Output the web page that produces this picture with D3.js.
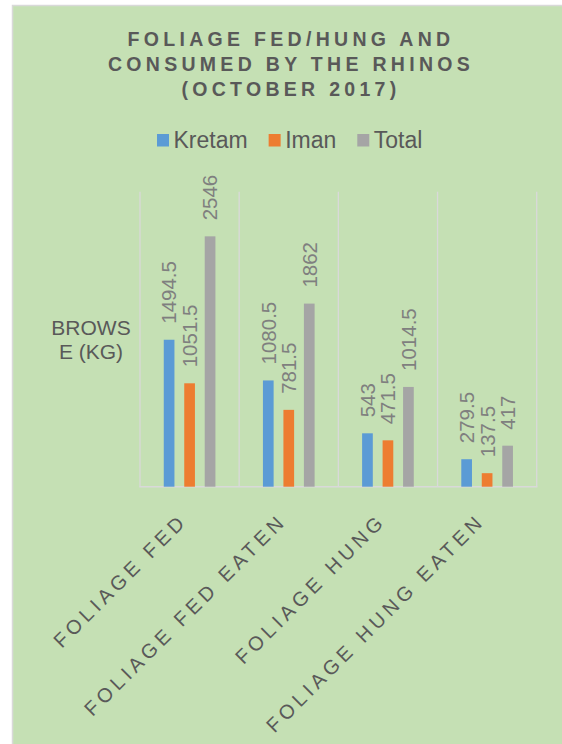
<!DOCTYPE html>
<html>
<head>
<meta charset="utf-8">
<script src="https://cdn.jsdelivr.net/npm/d3@7"></script>
<style>
	body { margin: 0; background: #fff; }
	svg { display: block; font-family: "Liberation Sans", Arial, sans-serif; }
</style>
</head>
<body>
<div class="chart"></div>
<script>

// Data

var
	categories = ['FOLIAGE FED', 'FOLIAGE FED EATEN', 'FOLIAGE HUNG', 'FOLIAGE HUNG EATEN'],
	seriesNames = ['Kretam', 'Iman', 'Total'],
	kretam = [1494.5, 1080.5, 543, 279.5],
	iman = [1051.5, 781.5, 471.5, 137.5],
	total = [2546, 1862, 1014.5, 417],
	seriesValues = [kretam, iman, total],
	colors = ['#5b9bd5', '#ed7d31', '#a5a5a5'],
	titleLines = ['FOLIAGE FED/HUNG AND', 'CONSUMED BY THE RHINOS', '(OCTOBER 2017)'],
	axisTitle = ['BROWS', 'E (KG)'];

// Canvas

var
	width = 562,
	height = 744,
	svg = d3.select('.chart').append('svg')
		.attr('width', width)
		.attr('height', height),

	panel = svg.append('rect')
		.attr('x', 12.5)
		.attr('y', 5.5)
		.attr('width', 570)
		.attr('height', 760)
		.style('fill', '#c5e0b4')
		.style('stroke', '#d9d9d9')
		.style('stroke-width', 1.5);

// Scales

var
	plotLeft = 140,
	plotRight = 536.7,
	plotTop = 191.7,
	plotBottom = 486.7,

	x0 = d3.scaleBand()
		.domain(categories)
		.range([plotLeft, plotRight]),

	x1 = d3.scaleBand()
		.domain(seriesNames)
		.range([0, x0.bandwidth()])
		.paddingInner(0.478)
		.paddingOuter(1.16),

	y = d3.scaleLinear()
		.domain([0, 3000])
		.range([plotBottom, plotTop]);

// Title

svg.append('text')
	.attr('text-anchor', 'middle')
	.style('font-size', '19.5px')
	.style('font-weight', 'bold')
	.style('letter-spacing', '4.3px')
	.style('fill', '#595959')
	.selectAll('tspan')
	.data(titleLines)
	.enter()
	.append('tspan')
	.attr('x', 291)
	.attr('y', function(d, i) {return 45.7 + i * 25;})
	.text(function(d) {return d;});

// Legend

var legend = svg.append('g'),
	legendX = 157;

seriesNames.forEach(function(name, i) {
	var item = legend.append('g')
		.attr('transform', 'translate(' + legendX + ',0)');
	item.append('rect')
		.attr('x', 0)
		.attr('y', 134)
		.attr('width', 12)
		.attr('height', 12.5)
		.style('fill', colors[i]);
	var label = item.append('text')
		.attr('x', 16.5)
		.attr('y', 148.3)
		.style('font-size', '23px')
		.style('fill', '#595959')
		.text(name);
	legendX += 16.5 + label.node().getComputedTextLength() + 21;
});

// Gridlines and axis line

svg.append('g')
	.selectAll('line')
	.data(categories.concat(['end']))
	.enter()
	.append('line')
	.attr('x1', function(d, i) {return i < categories.length ? x0(d) : plotRight;})
	.attr('x2', function(d, i) {return i < categories.length ? x0(d) : plotRight;})
	.attr('y1', y(3000))
	.attr('y2', y(0))
	.style('stroke', '#d9d9d9')
	.style('stroke-width', 1.3);

svg.append('line')
	.attr('x1', plotLeft - 0.7)
	.attr('x2', plotRight + 0.7)
	.attr('y1', y(0))
	.attr('y2', y(0))
	.style('stroke', '#d9d9d9')
	.style('stroke-width', 1.5);

// Axis title

svg.append('text')
	.attr('text-anchor', 'middle')
	.style('font-size', '21px')
	.style('fill', '#595959')
	.selectAll('tspan')
	.data(axisTitle)
	.enter()
	.append('tspan')
	.attr('x', 91)
	.attr('y', function(d, i) {return 335.3 + i * 24;})
	.text(function(d) {return d;});

// Bars and labels

var groups = svg.selectAll('g.group')
	.data(categories)
	.enter()
	.append('g')
	.attr('class', 'group')
	.attr('transform', function(d) {return 'translate(' + x0(d) + ',0)';});

groups.selectAll('rect')
	.data(function(d, i) {
		return seriesNames.map(function(s, j) {return {series: s, value: seriesValues[j][i], color: colors[j]};});
	})
	.enter()
	.append('rect')
	.attr('x', function(d) {return x1(d.series);})
	.attr('y', function(d) {return y(d.value);})
	.attr('width', x1.bandwidth())
	.attr('height', function(d) {return y(0) - y(d.value);})
	.style('fill', function(d) {return d.color;});

groups.selectAll('text')
	.data(function(d, i) {
		return seriesNames.map(function(s, j) {return {series: s, value: seriesValues[j][i]};});
	})
	.enter()
	.append('text')
	.attr('transform', function(d) {
		return 'translate(' + (x1(d.series) + x1.bandwidth() / 2) + ',' + (y(d.value) - 16) + ') rotate(-90)';
	})
	.attr('dy', '0.36em')
	.style('font-size', '20.5px')
	.style('fill', '#7f7f7f')
	.text(function(d) {return d.value;});

// Category labels

svg.append('g')
	.selectAll('text')
	.data(categories)
	.enter()
	.append('text')
	.attr('transform', function(d) {
		return 'translate(' + (x0(d) + x0.bandwidth() / 2 - 1) + ',' + 522 + ') rotate(-45)';
	})
	.attr('text-anchor', 'end')
	.style('font-size', '20px')
	.style('letter-spacing', '4.3px')
	.style('fill', '#595959')
	.text(function(d) {return d;});

</script>
</body>
</html>
